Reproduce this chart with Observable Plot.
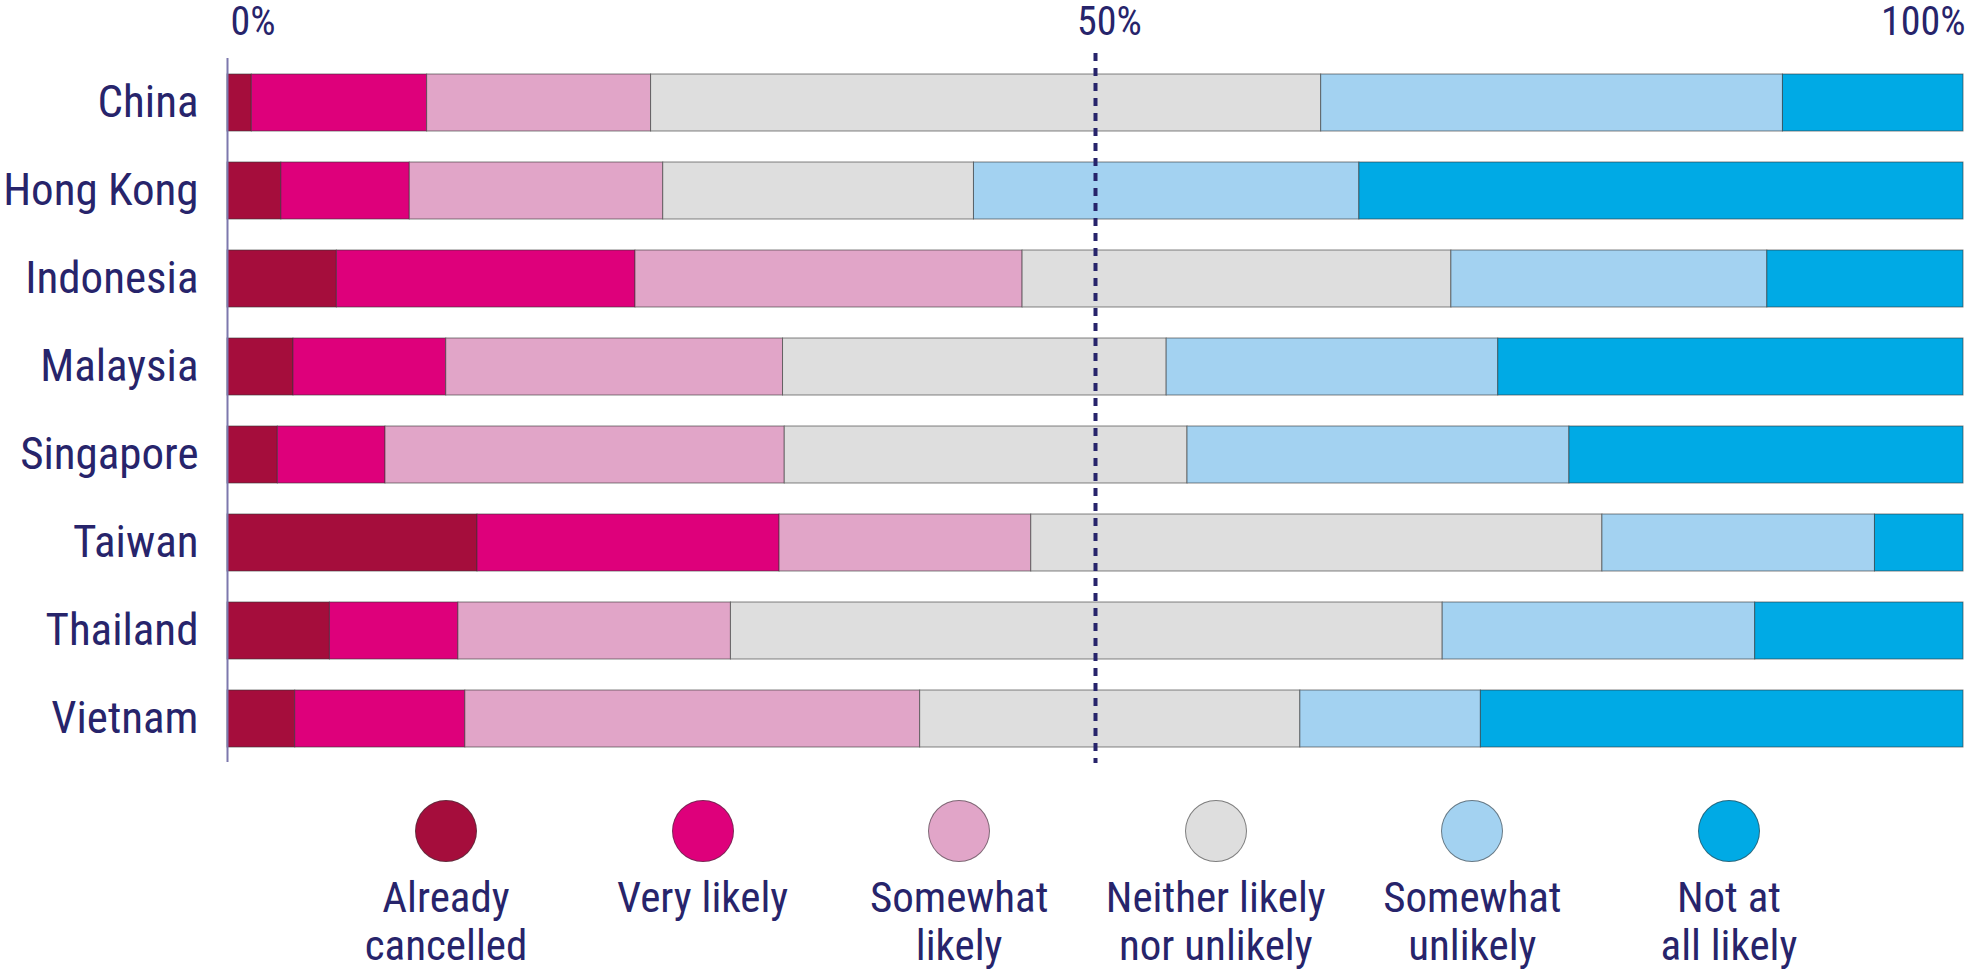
<!DOCTYPE html>
<html>
<head>
<meta charset="utf-8">
<script src="https://cdn.jsdelivr.net/npm/d3@7"></script>
<script src="https://cdn.jsdelivr.net/npm/@observablehq/plot@0.6"></script>
<style>
  html, body { margin: 0; padding: 0; background: #ffffff; }
  body { width: 1975px; height: 972px; overflow: hidden; font-family: "Roboto Condensed", "Liberation Sans Narrow", sans-serif; color: #27246b; }
  #legend { position: relative; height: 192px; display: flex; padding-left: 317.7px; }
  .item { width: 256.6px; display: flex; flex-direction: column; align-items: center; }
  .dot { width: 62px; height: 62px; border-radius: 50%; margin-top: 20px; box-sizing: border-box; border: 1px solid rgba(60,60,60,0.6); }
  .lab { margin-top: 11px; font-size: 43px; line-height: 48px; text-align: center; white-space: nowrap; }
</style>
</head>
<body>
<div id="chart"></div>
<div id="legend"></div>
<script>
const countries = ["China", "Hong Kong", "Indonesia", "Malaysia", "Singapore", "Taiwan", "Thailand", "Vietnam"];
const responses = ["Already cancelled", "Very likely", "Somewhat likely", "Neither likely nor unlikely", "Somewhat unlikely", "Not at all likely"];
const legendLines = [["Already", "cancelled"], ["Very likely"], ["Somewhat", "likely"], ["Neither likely", "nor unlikely"], ["Somewhat", "unlikely"], ["Not at", "all likely"]];
const colors = ["#a50d3c", "#de007b", "#e1a5c8", "#dedede", "#a3d2f1", "#00aae5"];

const alreadyCancelled = [1.4, 3.1, 6.3, 3.8, 2.9, 14.4, 5.9, 3.9];
const veryLikely       = [10.1, 7.4, 17.2, 8.8, 6.2, 17.4, 7.4, 9.8];
const somewhatLikely   = [12.9, 14.6, 22.3, 19.4, 23.0, 14.5, 15.7, 26.2];
const neitherLikely    = [38.6, 17.9, 24.7, 22.1, 23.2, 32.9, 41.0, 21.9];
const somewhatUnlikely = [26.6, 22.2, 18.2, 19.1, 22.0, 15.7, 18.0, 10.4];
const notAtAllLikely   = [10.4, 34.8, 11.3, 26.8, 22.7, 5.1, 12.0, 27.8];

const tickValues = [0, 50, 100];
const tickLabels = ["0%", "50%", "100%"];

const series = [alreadyCancelled, veryLikely, somewhatLikely, neitherLikely, somewhatUnlikely, notAtAllLikely];
const table = countries.flatMap((country, i) =>
  responses.map((response, j) => ({country, response, value: series[j][i]}))
);

const fontFamily = '"Roboto Condensed", "Liberation Sans Narrow", sans-serif';
const ink = "#27246b";

const chart = Plot.plot({
  width: 1975,
  height: 780,
  marginLeft: 227,
  marginRight: 12,
  marginTop: 53,
  marginBottom: 17,
  x: {domain: [0, 100], axis: null},
  y: {domain: countries, range: [57.4, 763], paddingInner: 0.354, paddingOuter: 0.177, axis: null},
  color: {domain: responses, range: colors},
  style: {fontFamily, color: ink, background: "white", overflow: "visible"},
  marks: [
    Plot.barX(table, {x: "value", y: "country", fill: "response", stroke: "#333333", strokeWidth: 1, strokeOpacity: 0.6}),
    Plot.axisY({tickSize: 0, tickPadding: 29, fontSize: 45, label: null, fill: ink}),
    Plot.ruleX([0], {stroke: "#7d78ad", strokeWidth: 2, insetTop: 5, insetBottom: 1}),
    Plot.ruleX([50], {stroke: ink, strokeWidth: 4, strokeDasharray: "8,7"}),
    Plot.text([tickValues[0]], {x: d => d, text: () => tickLabels[0], frameAnchor: "top", lineAnchor: "bottom", dy: -19, dx: 3, textAnchor: "start", fontSize: 40, fill: ink}),
    Plot.text([tickValues[1]], {x: d => d, text: () => tickLabels[1], frameAnchor: "top", lineAnchor: "bottom", dy: -19, dx: 14, textAnchor: "middle", fontSize: 40, fill: ink}),
    Plot.text([tickValues[2]], {x: d => d, text: () => tickLabels[2], frameAnchor: "top", lineAnchor: "bottom", dy: -19, dx: 2, textAnchor: "end", fontSize: 40, fill: ink})
  ]
});
document.getElementById("chart").appendChild(chart);

const legend = d3.select("#legend");
responses.forEach((r, i) => {
  const item = legend.append("div").attr("class", "item");
  item.append("div").attr("class", "dot").style("background", colors[i]);
  item.append("div").attr("class", "lab").html(legendLines[i].join("<br>"));
});
</script>
</body>
</html>
